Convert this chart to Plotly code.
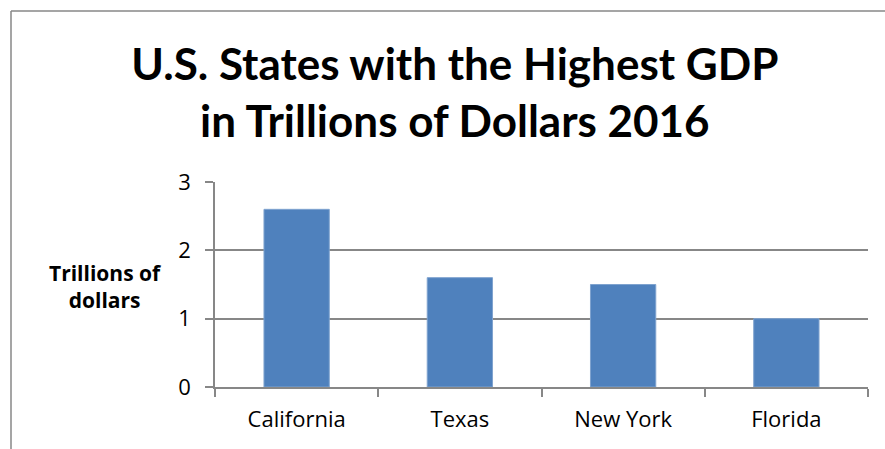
import plotly.graph_objects as go

states = ["California", "Texas", "New York", "Florida"]
gdp_trillions = [2.6, 1.6, 1.5, 1.0]
y_ticks = [0, 1, 2, 3]

W, H = 885, 449
L, R, T, B = 215, 17, 182, 62
pw = W - L - R
ph = H - T - B

def px_x(x):
    return (x - L) / pw

def px_y(y):
    return (H - B - y) / ph

grid = "#878787"

fig = go.Figure(
    go.Bar(
        x=states,
        y=gdp_trillions,
        width=0.4,
        marker=dict(color="#4F81BD", line=dict(color="#7FA3CF", width=1)),
    )
)

fig.update_layout(
    width=W,
    height=H,
    margin=dict(l=L, r=R, t=T, b=B, pad=0),
    paper_bgcolor="white",
    plot_bgcolor="white",
    showlegend=False,
    font=dict(family="Open Sans", color="black"),
    title=dict(
        text="U.S. States with the Highest GDP<br>in Trillions of Dollars 2016",
        x=0.514,
        xanchor="center",
        y=1 - 80 / H,
        yanchor="middle",
        font=dict(family="Lato", size=44, color="black", weight="bold"),
    ),
    xaxis=dict(
        tickson="boundaries",
        ticks="outside",
        ticklen=8,
        tickcolor=grid,
        tickwidth=1.5,
        showline=True,
        linecolor=grid,
        linewidth=1.5,
        showgrid=False,
        tickfont=dict(size=22, family="Open Sans", color="black"),
        ticklabelstandoff=12,
    ),
    yaxis=dict(
        range=[0, 3],
        tickvals=y_ticks,
        ticks="outside",
        ticklen=8,
        tickcolor=grid,
        tickwidth=1.5,
        showline=True,
        linecolor=grid,
        linewidth=1.5,
        showgrid=True,
        gridcolor=grid,
        gridwidth=1.5,
        zeroline=False,
        tickfont=dict(size=22, family="Open Sans", color="black"),
        ticklabelstandoff=10,
    ),
    bargap=0.6,
)

fig.add_annotation(
    text="<b>Trillions of<br>dollars</b>",
    xref="paper", yref="paper",
    x=px_x(105), y=px_y(286),
    xanchor="center", yanchor="middle",
    showarrow=False,
    align="center",
    font=dict(family="Open Sans", size=21, color="black"),
)

# outer chart frame (top and left edges)
fig.add_shape(type="line", xref="paper", yref="paper",
              x0=px_x(11), x1=px_x(W + 5), y0=px_y(11), y1=px_y(11),
              line=dict(color=grid, width=1.5))
fig.add_shape(type="line", xref="paper", yref="paper",
              x0=px_x(11), x1=px_x(11), y0=px_y(11), y1=px_y(H + 5),
              line=dict(color=grid, width=1.5))

fig.write_html("out.html")
